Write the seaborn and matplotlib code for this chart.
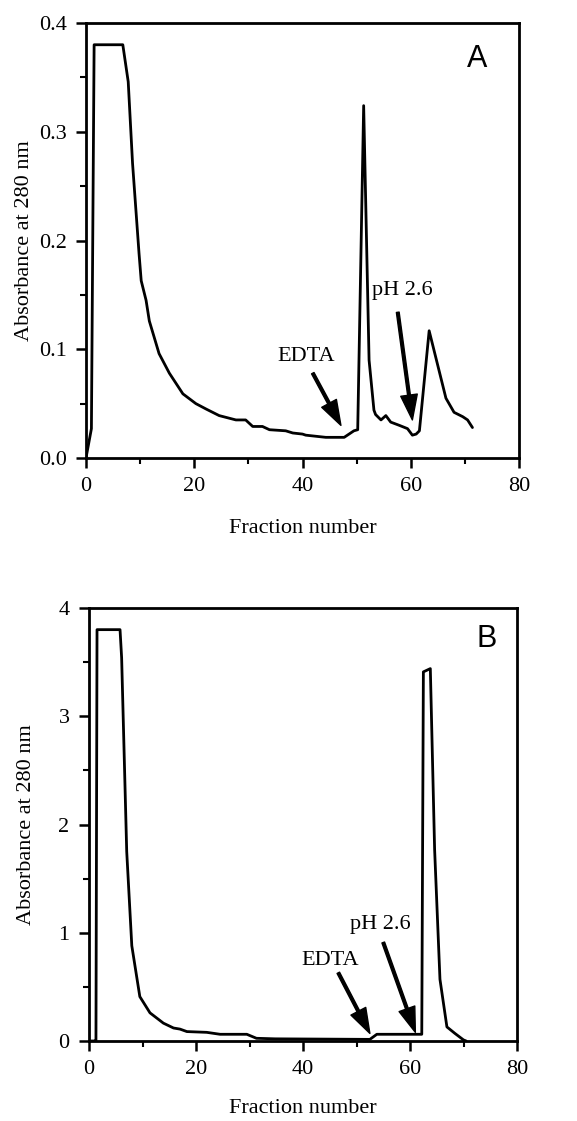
import matplotlib
matplotlib.use("Agg")
import matplotlib.pyplot as plt
import seaborn as sns
import pandas as pd

# Panel A data
fracA = [0, 1, 1.5, 6.8, 7.8, 8.6, 9.8, 10.2, 11.1, 11.7, 13.5, 15.4, 17.9, 20.3, 22.2, 24.6,
         27.7, 29.5, 30.8, 32.6, 33.9, 36.9, 38.2, 40.0, 40.6, 44.3, 47.7, 48.6, 49.5, 50.2,
         51.3, 52.3, 53.2, 53.5, 54.5, 55.4, 56.3, 57.9, 59.4, 60.3, 61.0, 61.6, 63.4, 65.2,
         66.5, 68.0, 69.6, 70.5, 71.4]
absA = [0.0, 0.027, 0.38, 0.38, 0.346, 0.271, 0.188, 0.163, 0.145, 0.126, 0.096, 0.078, 0.059,
        0.050, 0.045, 0.039, 0.035, 0.035, 0.029, 0.029, 0.026, 0.025, 0.023, 0.022, 0.021,
        0.019, 0.019, 0.022, 0.025, 0.026, 0.324, 0.09, 0.044, 0.040, 0.035, 0.039, 0.033,
        0.030, 0.027, 0.021, 0.022, 0.025, 0.117, 0.081, 0.055, 0.042, 0.038, 0.035, 0.028]

# Panel B data
fracB = [0, 1.0, 1.3, 1.5, 5.8, 6.1, 7.05, 8.0, 9.5, 11.4, 13.9, 15.8, 17.0, 18.3, 22.0, 24.5,
         29.5, 31.3, 34.8, 52.5, 53.8, 62.2, 62.5, 63.8, 64.6, 65.6, 66.9, 68.4, 70.0, 70.5]
absB = [0.0, 0.0, 0.0, 3.8, 3.8, 3.54, 1.75, 0.88, 0.41, 0.26, 0.165, 0.12, 0.11, 0.087, 0.08,
        0.062, 0.062, 0.025, 0.02, 0.015, 0.062, 0.062, 3.41, 3.44, 1.77, 0.57, 0.13, 0.07,
        0.01, 0.0]

xticks = [0, 20, 40, 60, 80]
yticksA = [0.0, 0.1, 0.2, 0.3, 0.4]
yticksB = [0, 1, 2, 3, 4]

# annotations: (label, text position, arrow tail, arrow tip)
notesA = [("EDTA", (40.6, 0.093), (41.9, 0.078), (47.1, 0.030)),
          ("pH 2.6", (58.5, 0.154), (57.6, 0.134), (60.3, 0.035))]
notesB = [("EDTA", (45.1, 0.74), (46.6, 0.63), (52.5, 0.07)),
          ("pH 2.6", (54.4, 1.08), (55.0, 0.91), (61.0, 0.08))]

sns.set_theme(style="ticks")
plt.rcParams["font.family"] = ["Liberation Serif", "DejaVu Serif"]

W, H = 577, 1121
fig = plt.figure(figsize=(W/100, H/100), dpi=100)

def box(l, r, t, b):
    return [l/W, 1-b/H, (r-l)/W, (b-t)/H]

axA = fig.add_axes(box(86, 519, 23, 458))
axB = fig.add_axes(box(89, 517, 608, 1041))

dfA = pd.DataFrame({"x": fracA, "y": absA})
dfB = pd.DataFrame({"x": fracB, "y": absB})
sns.lineplot(data=dfA, x="x", y="y", ax=axA, sort=False, color="black", lw=2.0)
sns.lineplot(data=dfB, x="x", y="y", ax=axB, sort=False, color="black", lw=2.0)

arrow = dict(facecolor="black", edgecolor="black", width=2.0, headwidth=12, headlength=18, shrink=0)

def style(ax, yticks, ylim, fmt, letter, lpos, ylab_x, xlab_y, notes):
    ax.set_xlim(0, 80)
    ax.set_ylim(*ylim)
    ax.set_xticks(xticks)
    ax.set_xticks([10, 30, 50, 70], minor=True)
    ax.set_yticks(yticks)
    step = yticks[1] - yticks[0]
    ax.set_yticks([v + step/2 for v in yticks[:-1]], minor=True)
    ax.set_yticklabels([fmt.format(v) for v in yticks])
    ax.tick_params(axis="both", which="major", direction="out", length=7, width=1.8,
                   labelsize=16, color="black", labelcolor="black", pad=7)
    ax.tick_params(axis="both", which="minor", direction="out", length=4, width=1.5, color="black")
    for s in ax.spines.values():
        s.set_visible(True)
        s.set_linewidth(2.0)
        s.set_color("black")
    ax.set_xlabel("Fraction number", fontsize=16, color="black")
    ax.set_ylabel("Absorbance at 280 nm", fontsize=16, color="black")
    ax.xaxis.set_label_coords(0.5, xlab_y)
    ax.xaxis.label.set_va("center")
    ax.yaxis.set_label_coords(ylab_x, 0.5)
    ax.yaxis.label.set_va("center")
    ax.text(lpos[0], lpos[1], letter, fontsize=22, family="Liberation Sans",
            ha="center", va="center", color="black")
    for label, tpos, tail, tip in notes:
        ax.text(tpos[0], tpos[1], label, fontsize=16, ha="center", va="center", color="black")
        ax.annotate("", xy=tip, xytext=tail, arrowprops=arrow)

style(axA, yticksA, (0, 0.4), "{:.1f}", "A", (72.3, 0.367), -0.143, -0.163, notesA)
style(axB, yticksB, (0, 4), "{:d}", "B", (74.3, 3.71), -0.145, -0.155, notesB)

fig.savefig("out.png", dpi=100)
